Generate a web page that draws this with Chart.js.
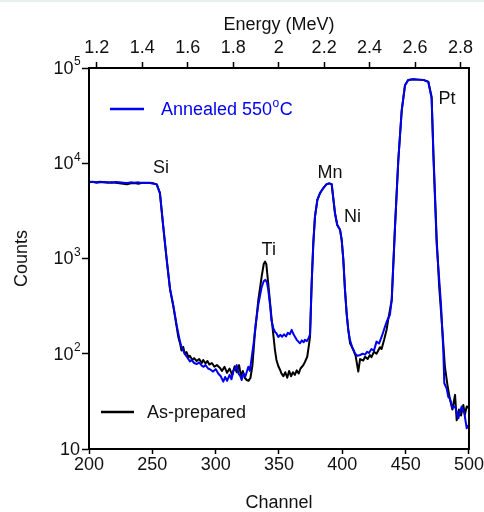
<!DOCTYPE html>
<html><head><meta charset="utf-8">
<script src="https://cdn.jsdelivr.net/npm/chart.js@4"></script>
<style>html,body{margin:0;padding:0;background:#fff;overflow:hidden}
#strip{position:absolute;left:0;top:0;width:484px;height:2px;background:#e2f1ea}
canvas{display:block}</style></head>
<body><canvas id="c" width="484" height="512"></canvas><div id="strip"></div>
<script>
const channelRange = [200, 500];
const energyRange = [1.166, 2.837];
const channelTicks = [200, 250, 300, 350, 400, 450, 500];
const energyTicks = [1.2, 1.4, 1.6, 1.8, 2.0, 2.2, 2.4, 2.6, 2.8];
const countTicks = [10, 100, 1000, 10000, 100000];
const countTickBase = ['10', '10', '10', '10', '10'];
const countTickExp = ['', '2', '3', '4', '5'];
const seriesNames = ['Annealed 550°C', 'As-prepared'];

const annealedChannel = [200,203,206,209,212,215,218,221,224,227,230,233,236,239,242,245,248,251,253.5,256,258.6,261.3,264,266.6,269.2,271.8,273,274.4,276,277.5,279.7,281,283,285,287,289,290.5,292,294,296,298,300,302,304,306,307.5,309,311,312.5,314,315.5,316.6,318,319.5,320.5,322,323.5,325.8,327,328.4,330,331.5,333.7,336.3,338,339.3,340.5,341.5,343,344,345.5,347,348,349.5,351,352.5,354,355.5,357,358.5,360,361.5,362.6,364,365.5,366.6,368,369.5,370.5,372,373.3,374.5,375.8,377.1,378.4,380.3,382.4,385,387.6,389.6,391.6,394.2,396,398.2,399.5,400.8,402.1,403.4,404.7,406,408,410,412,414,416,418,419.5,421,423,425,427,429,431,433.7,435.5,437.6,439,441.6,444.2,446.9,449.5,452,456,460,464,467.9,470.5,472,474.5,476.5,477.9,479.7,480.5,482.4,483.7,485,486.9,489,491.6,494.2,496.3,498.2,500];
const annealedCounts = [6300,6400,6250,6300,6350,6300,6250,6350,6300,6250,6200,6300,6250,6300,6200,6250,6200,6100,6000,4860,2200,1000,480,320,200,135,118,108,98,92,83,86,80,78,81,75,73,76,70,68,65,69,62,58,51,57,52,60,54,66,70,76,62,58,53,62,58,73,66,90,130,200,330,500,580,596,560,470,320,226,185,168,164,150,158,151,160,152,166,160,178,160,151,140,133,129,138,132,140,136,145,160,550,1450,2750,4120,4860,5490,6030,6150,6030,2990,2250,2000,1570,966,468,266,178,140,115,101,95,97,100,98,105,102,112,108,134,128,150,193,225,257,367,2160,10800,36000,66000,75000,76000,75500,75000,71000,48000,11000,1400,600,330,110,49,43,35,34,27,28,21,28,24,16.5,18];

const asPreparedChannel = [200,203,206,209,212,215,218,221,224,227,230,233,236,239,242,245,248,251,253.5,256,258.6,261.3,264,265.3,266.6,269.2,270.5,271.8,273,274.4,275.5,277,278.5,279.7,281.5,283,285,287,289,290.2,292,293.5,295,297,299,301,303.4,305,307,309,311,313,315,316.6,318.5,320,321.5,323,324.5,326,327.5,329,331,333.7,336.3,338,339,340,341.5,344,346.8,348,349.5,350.8,352,353.4,355,356.5,358,359.5,361,362.5,364,365.5,367,369.2,370.5,372.3,373.5,374.5,375.8,377.1,378.4,380.3,382.4,385,387.6,389.6,391.6,394.2,396,398.2,399.5,400.8,402.1,403.4,404.7,406.1,408.7,410.5,412.6,414,416.5,418,420,421.8,423,425,427,429.7,431,433,435,436.5,439,441.6,444.2,446.9,449.5,452,456,460,464,467.9,470.5,472,474.5,476.5,478.4,481,483.2,485,486.9,489,490.3,492.1,493.7,495.5,496.8,498.2,500];
const asPreparedCounts = [6400,6350,6300,6380,6300,6250,6320,6250,6150,6100,6000,6150,6200,6100,6250,6200,6250,6150,6000,4860,2160,970,470,385,313,193,150,130,108,118,100,104,92,95,86,90,84,88,80,86,79,84,77,80,73,76,71,66,73,63,70,60,74,64,76,58,66,56,53,52,56,75,165,367,645,880,927,870,550,245,110,86,74,68,62,58,64,56,66,58,64,60,67,62,70,76,82,93,120,151,550,1450,2750,4120,4860,5490,6030,6150,6030,2990,2250,2000,1570,966,468,266,178,129,110,95,65,88,85,93,88,97,92,105,100,117,112,140,180,240,367,2160,10800,36000,66000,75000,76000,75500,75000,72000,50000,12000,1600,500,226,73,45,33,26,37,20,26,22.5,29,23,28,27];

const peakLabels = ['Si', 'Ti', 'Mn', 'Ni', 'Pt'];
const peakLabelChannel = [256.8, 341.9, 390.3, 408.0, 482.6];
const peakLabelCounts = [8950, 1230, 7930, 2735, 47400];

const FONT = '"Liberation Sans", Arial, Helvetica, sans-serif';
const BLUE = '#0000ee';
const INK = '#111';

function pts(xs, ys) { return xs.map((x, i) => ({x: x, y: ys[i]})); }

const deco = {
  id: 'deco',
  afterDraw(chart) {
    const {ctx, chartArea: a, scales} = chart;
    ctx.save();
    ctx.strokeStyle = '#000'; ctx.lineWidth = 2;
    ctx.strokeRect(a.left, a.top, a.right - a.left, a.bottom - a.top);
    // log axis labels: 10 with superscript exponent
    ctx.fillStyle = INK; ctx.textBaseline = 'middle';
    countTicks.forEach((v, i) => {
      const y = scales.y.getPixelForValue(v);
      const exp = countTickExp[i];
      ctx.font = '18px ' + FONT; ctx.textAlign = 'right';
      if (exp) {
        ctx.fillText(countTickBase[i], a.left - 15.5, y + 1);
        ctx.font = '12px ' + FONT; ctx.textAlign = 'left';
        ctx.fillText(exp, a.left - 15, y - 6);
      } else {
        ctx.fillText(countTickBase[i], a.left - 9, y + 1);
      }
    });
    ctx.font = '18px ' + FONT; ctx.fillStyle = INK;
    ctx.textAlign = 'center'; ctx.textBaseline = 'middle';
    peakLabels.forEach((t, i) => {
      ctx.fillText(t, scales.x.getPixelForValue(peakLabelChannel[i]), scales.y.getPixelForValue(peakLabelCounts[i]));
    });
    // legend entries
    const entries = [
      {name: seriesNames[0], color: BLUE, y: a.top + 41, x0: a.left + 21, x1: a.left + 55, tx: a.left + 72},
      {name: seriesNames[1], color: '#000', y: a.bottom - 37, x0: a.left + 12, x1: a.left + 45, tx: a.left + 58}
    ];
    ctx.textAlign = 'left';
    entries.forEach(e => {
      ctx.strokeStyle = e.color; ctx.lineWidth = 2.5;
      ctx.beginPath(); ctx.moveTo(e.x0, e.y); ctx.lineTo(e.x1, e.y); ctx.stroke();
      ctx.fillStyle = e.color === '#000' ? INK : e.color;
      const parts = e.name.split('°');
      ctx.font = '18px ' + FONT;
      ctx.fillText(parts[0], e.tx, e.y + 1);
      if (parts.length > 1) {
        let x = e.tx + ctx.measureText(parts[0]).width;
        ctx.font = '12px ' + FONT;
        ctx.fillText('o', x + 0.5, e.y - 5);
        x += ctx.measureText('o').width + 1;
        ctx.font = '18px ' + FONT;
        ctx.fillText(parts[1], x, e.y + 1);
      }
    });
    ctx.restore();
  }
};

const tickFont = {family: FONT, size: 18};
const gridCfg = (len) => ({drawOnChartArea: false, drawTicks: true, tickLength: len, tickColor: '#000', tickWidth: 1.5});
const borderCfg = {display: true, color: '#000', width: 2};

new Chart(document.getElementById('c'), {
  type: 'scatter',
  data: {
    datasets: [
      {label: seriesNames[0], data: pts(annealedChannel, annealedCounts), showLine: true, borderColor: BLUE, backgroundColor: BLUE, borderWidth: 2, pointRadius: 0, tension: 0, borderJoinStyle: 'round', xAxisID: 'x', yAxisID: 'y'},
      {label: seriesNames[1], data: pts(asPreparedChannel, asPreparedCounts), showLine: true, borderColor: '#000', backgroundColor: '#000', borderWidth: 2, pointRadius: 0, tension: 0, borderJoinStyle: 'round', xAxisID: 'x', yAxisID: 'y'}
    ]
  },
  options: {
    responsive: false, animation: false, devicePixelRatio: 1,
    layout: {padding: {left: 0, right: 15, top: 0, bottom: 0}},
    plugins: {legend: {display: false}, tooltip: {enabled: false}},
    scales: {
      x: {
        type: 'linear', position: 'bottom', min: channelRange[0], max: channelRange[1],
        afterBuildTicks: s => { s.ticks = channelTicks.map(v => ({value: v})); },
        afterFit: s => { s.height = 63; },
        grid: gridCfg(5), border: borderCfg,
        ticks: {font: tickFont, color: INK, padding: 0, maxRotation: 0, autoSkip: false},
        title: {display: true, text: 'Channel', font: {family: FONT, size: 18, lineHeight: 1}, color: INK, padding: 0}
      },
      x2: {
        type: 'linear', position: 'top', min: energyRange[0], max: energyRange[1],
        afterBuildTicks: s => { s.ticks = energyTicks.map(v => ({value: v})); },
        afterFit: s => { s.height = 68; },
        grid: gridCfg(6), border: borderCfg,
        ticks: {font: tickFont, color: INK, padding: 3, maxRotation: 0, autoSkip: false,
          callback: v => String(Number(Number(v).toFixed(1)))},
        title: {display: true, text: 'Energy (MeV)', font: {family: FONT, size: 18}, color: INK, padding: {top: 14, bottom: 0}}
      },
      y: {
        type: 'logarithmic', position: 'left', min: countTicks[0], max: countTicks[countTicks.length - 1],
        afterBuildTicks: s => { s.ticks = countTicks.map(v => ({value: v})); },
        afterFit: s => { s.width = 89; },
        grid: gridCfg(7), border: borderCfg,
        ticks: {display: false},
        title: {display: true, text: 'Counts', font: {family: FONT, size: 18}, color: INK, padding: {top: 11, bottom: 0}}
      }
    }
  },
  plugins: [deco]
});
</script>
</body></html>
